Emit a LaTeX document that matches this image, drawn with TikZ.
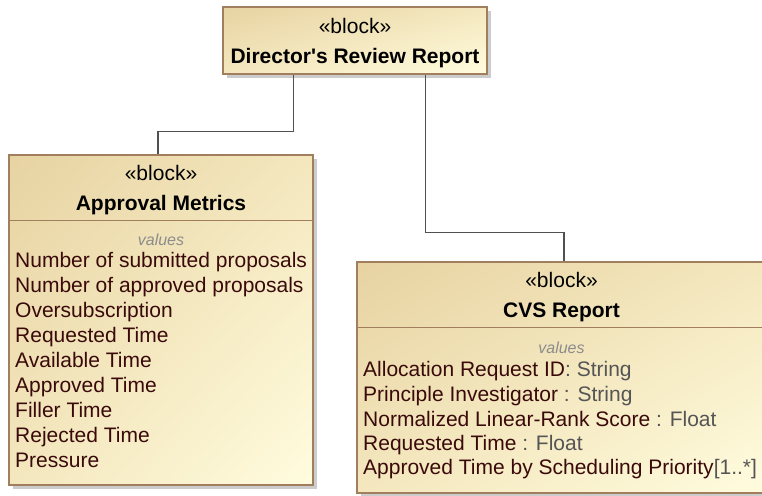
\documentclass[tikz,border=0pt]{standalone}
\usepackage{fontspec}
\setmainfont{Liberation Sans}[Ligatures=TeXOff]
\usetikzlibrary{shadows,shadings}
\definecolor{blkborder}{RGB}{160,126,94}
\definecolor{blkdark}{RGB}{231,211,162}
\definecolor{blklight}{RGB}{255,252,222}
\definecolor{blkmid}{RGB}{244,231,190}
\definecolor{propc}{RGB}{58,10,10}
\definecolor{typec}{RGB}{85,85,85}
\definecolor{valc}{RGB}{140,140,140}
\definecolor{connc}{RGB}{80,80,80}
\tikzset{
  blk/.style={rectangle, draw=blkborder, line width=1.2pt, inner sep=0pt,
    upper left=blkdark, lower right=blklight, upper right=blkmid, lower left=blkmid,
    drop shadow={shadow xshift=4pt, shadow yshift=-4pt, fill=black!40, draw=none}},
  sep/.style={draw=blkborder, line width=1.2pt},
  conn/.style={draw=connc, line width=1.3pt},
  stereo/.style={inner sep=0pt, font=\fontsize{21}{25}\selectfont, text=black},
  ttl/.style={inner sep=0pt, font=\fontsize{21}{25}\selectfont\bfseries, text=black},
  valsty/.style={inner sep=0pt, font=\fontsize{16}{19}\selectfont\itshape, text=valc},
  prop/.style={anchor=west, inner sep=0pt, text=propc, font=\fontsize{21}{25}\selectfont,
    text height=15pt, text depth=4pt},
}
\newcommand{\ty}[1]{\textcolor{typec}{#1}}
\begin{document}
\begin{tikzpicture}[x=1pt,y=-1pt]
\useasboundingbox (0,0) rectangle (762,495);
% blocks
\node[blk, minimum width=264pt, minimum height=67pt] (dr) at (355,40.5) {};
\node[blk, minimum width=304pt, minimum height=330pt] (am) at (161,320) {};
\node[blk, minimum width=409pt, minimum height=231pt] (cvs) at (561.5,377.5) {};
% separators
\draw[sep] ([yshift=-66pt]am.north west) -- ([yshift=-66pt]am.north east);
\draw[sep] ([yshift=-66pt]cvs.north west) -- ([yshift=-66pt]cvs.north east);
% top block texts
\node[stereo] (drs) at (355,26) {«block»};
\node[ttl] (drt) at (355,58) {Director's Review Report};
% approval metrics
\node[stereo] (ams) at (161,173) {«block»};
\node[ttl] (amt) at (161,205) {Approval Metrics};
\node[valsty] (amv) at (161,240) {values};
\node[prop] (a1) at (15,262) {Number of submitted proposals};
\node[prop] (a2) at (15,287) {Number of approved proposals};
\node[prop] (a3) at (15,312) {Oversubscription};
\node[prop] (a4) at (15,337) {Requested Time};
\node[prop] (a5) at (15,362) {Available Time};
\node[prop] (a6) at (15,387) {Approved Time};
\node[prop] (a7) at (15,412) {Filler Time};
\node[prop] (a8) at (15,437) {Rejected Time};
\node[prop] (a9) at (15,462) {Pressure};
% cvs report
\node[stereo] (cs) at (561.5,280) {«block»};
\node[ttl] (ct) at (561.5,312) {CVS Report};
\node[valsty] (cv) at (561.5,348) {values};
\node[prop] (c1) at (363,371) {Allocation Request ID\ty{: String}};
\node[prop] (c2) at (363,396) {Principle Investigator \ty{: String}};
\node[prop] (c3) at (363,421) {Normalized Linear-Rank Score \ty{: Float}};
\node[prop] (c4) at (363,445) {Requested Time \ty{: Float}};
\node[prop] (c5) at (363,469) {Approved Time by Scheduling Priority\ty{[1..*]}};
% connectors
\draw[conn] ([xshift=71pt]dr.south west) -- ++(0,57) -| ([xshift=-3pt]am.north);
\draw[conn] ([xshift=203pt]dr.south west) -- ++(0,158) -| ([xshift=2.5pt]cvs.north);
\end{tikzpicture}
\end{document}
